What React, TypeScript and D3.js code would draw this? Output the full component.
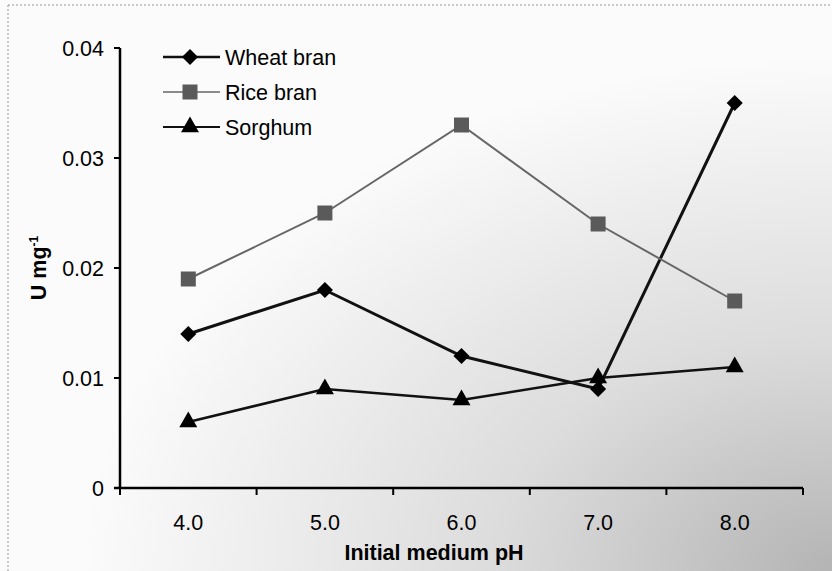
import React from 'react'
import * as d3 from 'd3'

const phLevels = ['4.0', '5.0', '6.0', '7.0', '8.0']
const wheatBran = [0.014, 0.018, 0.012, 0.009, 0.035]
const riceBran = [0.019, 0.025, 0.033, 0.024, 0.017]
const sorghum = [0.006, 0.009, 0.008, 0.010, 0.011]
const yTicks = [0, 0.01, 0.02, 0.03, 0.04]

const W = 832
const H = 571
const FONT = '"Liberation Sans", Arial, Helvetica, sans-serif'
const FS = 21.5

type Shape = 'diamond' | 'square' | 'triangle'

const series: { name: string; values: number[]; color: string; marker: string; width: number; shape: Shape }[] = [
  { name: 'Wheat bran', values: wheatBran, color: '#111', marker: '#000', width: 3, shape: 'diamond' },
  { name: 'Rice bran', values: riceBran, color: '#666', marker: '#5a5a5a', width: 2, shape: 'square' },
  { name: 'Sorghum', values: sorghum, color: '#111', marker: '#000', width: 2.5, shape: 'triangle' },
]

function markerPath(shape: Shape) {
  if (shape === 'diamond') return d3.symbol(d3.symbolDiamond2, 165)()
  if (shape === 'square') return d3.symbol(d3.symbolSquare, 225)()
  return d3.symbol(d3.symbolTriangle, 140)()
}

export default function App() {
  const x = d3.scaleBand().domain(phLevels).range([120, 803])
  const y = d3.scaleLinear().domain([0, 0.04]).range([488, 48])
  const cx = (c: string) => (x(c) ?? 0) + x.bandwidth() / 2
  const line = d3.line<number>().x((_, i) => cx(phLevels[i])).y(d => y(d))
  const bandEdges = phLevels.map(c => x(c) ?? 0).concat([803])

  return (
    <svg width={W} height={H} style={{ position: 'absolute', left: 0, top: 0 }} fontFamily={FONT}>
      <defs>
        <radialGradient id="bg" cx="1" cy="1" r="0.9" gradientUnits="objectBoundingBox">
          <stop offset="0" stopColor="#b4b4b4" />
          <stop offset="0.45" stopColor="#dcdcdc" />
          <stop offset="1" stopColor="#fbfbfb" />
        </radialGradient>
      </defs>
      <rect x={0} y={0} width={W} height={H} fill="url(#bg)" />
      <line x1={8} x2={W} y1={5} y2={5} stroke="#999" strokeDasharray="2,2" />
      <line x1={8} x2={8} y1={5} y2={H} stroke="#999" strokeDasharray="2,2" />

      {/* axes */}
      <line x1={120} x2={120} y1={y(0.04)} y2={y(0)} stroke="#000" strokeWidth={2.5} />
      <line x1={114} x2={803} y1={y(0)} y2={y(0)} stroke="#000" strokeWidth={2.5} />
      {yTicks.map(t => (
        <g key={t}>
          <line x1={114} x2={120} y1={y(t)} y2={y(t)} stroke="#000" strokeWidth={2} />
          <text x={104} y={y(t)} dy="0.35em" textAnchor="end" fontSize={FS}>
            {t === 0 ? '0' : t.toFixed(2)}
          </text>
        </g>
      ))}
      {bandEdges.map((e, i) => (
        <line key={i} x1={e} x2={e} y1={y(0)} y2={y(0) + 7} stroke="#000" strokeWidth={2} />
      ))}
      {phLevels.map(c => (
        <text key={c} x={cx(c)} y={530} textAnchor="middle" fontSize={FS}>{c}</text>
      ))}
      <text x={434} y={560} textAnchor="middle" fontSize={FS} fontWeight="bold">Initial medium pH</text>
      <text transform="translate(46,268) rotate(-90)" textAnchor="middle" fontSize={FS} fontWeight="bold">
        U mg<tspan dy={-8} fontSize={12}>-1</tspan>
      </text>

      {/* series */}
      {series.map(s => (
        <g key={s.name}>
          <path d={line(s.values) ?? ''} fill="none" stroke={s.color} strokeWidth={s.width} />
          {s.values.map((v, i) => (
            <path key={i} d={markerPath(s.shape) ?? ''} transform={`translate(${cx(phLevels[i])},${y(v)})`} fill={s.marker} />
          ))}
        </g>
      ))}

      {/* legend */}
      {series.map((s, i) => {
        const ly = 57 + i * 35
        return (
          <g key={s.name}>
            <line x1={163} x2={220} y1={ly} y2={ly} stroke={s.color} strokeWidth={s.width - 0.5} />
            <path d={markerPath(s.shape) ?? ''} transform={`translate(190,${ly})`} fill={s.marker} />
            <text x={225} y={ly} dy="0.35em" fontSize={FS}>{s.name}</text>
          </g>
        )
      })}
    </svg>
  )
}
